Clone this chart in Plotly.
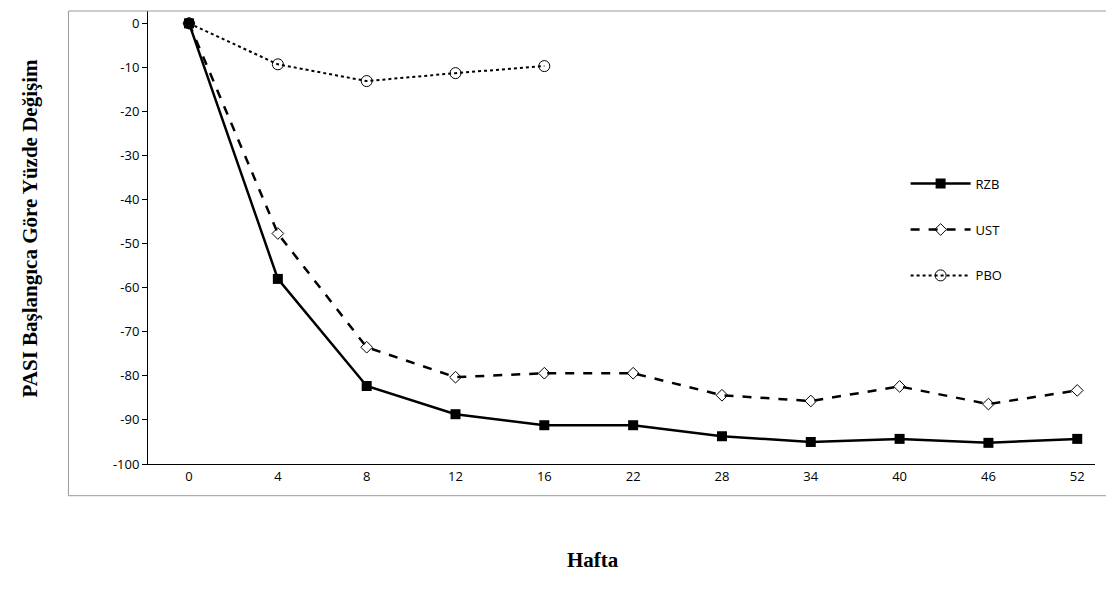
import plotly.graph_objects as go

weeks = ["0","4","8","12","16","22","28","34","40","46","52"]
rzb = [0,-58,-82.3,-88.7,-91.2,-91.2,-93.7,-95,-94.3,-95.2,-94.3]
ust = [0,-47.7,-73.5,-80.3,-79.4,-79.4,-84.4,-85.7,-82.4,-86.4,-83.3]
pbo = [0,-9.3,-13.1,-11.3,-9.7]
yticks = list(range(-100, 1, 10))

idx = list(range(len(weeks)))
fig = go.Figure()
fig.add_trace(go.Scatter(x=idx, y=rzb, name="RZB", legendgroup="a", mode="lines+markers",
    line=dict(color="black", width=2.5), marker=dict(symbol="square", size=10, color="black")))
fig.add_trace(go.Scatter(x=idx, y=ust, name="UST", legendgroup="b", mode="lines+markers",
    line=dict(color="black", width=2.5, dash="dash"),
    marker=dict(symbol="diamond-open", size=9, color="black", line=dict(width=1))))
fig.add_trace(go.Scatter(x=idx[:len(pbo)], y=pbo, name="PBO", legendgroup="c", mode="lines+markers",
    line=dict(color="black", width=2, dash="dot"),
    marker=dict(symbol="circle-open", size=11, color="black", line=dict(width=1))))

fig.update_layout(
    width=1114, height=597, plot_bgcolor="white", paper_bgcolor="white",
    margin=dict(l=140, r=27, t=3, b=141),
    font=dict(family="Open Sans", size=13, color="black"),
    legend=dict(x=0.80, y=0.652, xanchor="left", yanchor="top", bgcolor="rgba(0,0,0,0)",
                font=dict(size=13), tracegroupgap=26, itemwidth=60),
    shapes=[dict(type="rect", xref="paper", yref="paper", x0=-0.084, x1=1.0145,
                 y0=-0.07, y1=1.0, line=dict(color="#999", width=1))],
    annotations=[
        dict(text="<b>Hafta</b>", xref="paper", yref="paper", x=0.47, y=-0.18, showarrow=False,
             xanchor="center", font=dict(family="Liberation Serif", size=21, color="black"),
             yanchor="top"),
        dict(text="<b>PASI Başlangıca Göre Yüzde Değişim</b>", xref="paper", yref="paper",
             x=-0.1246, y=0.52, xanchor="center", yanchor="middle", textangle=-90,
             showarrow=False, font=dict(family="Liberation Serif", size=21, color="black")),
    ],
)
fig.update_xaxes(tickvals=idx, ticktext=weeks, range=[-0.462, 10.2], showline=True,
                 linecolor="black", showgrid=False, zeroline=False, ticks="")
fig.update_yaxes(range=[-100, 2.8], tickvals=yticks, ticktext=[str(v) for v in yticks],
                 showline=True, linecolor="black", showgrid=False, zeroline=False,
                 ticks="outside", ticklen=5, tickcolor="black")
fig.write_html("out.html")
